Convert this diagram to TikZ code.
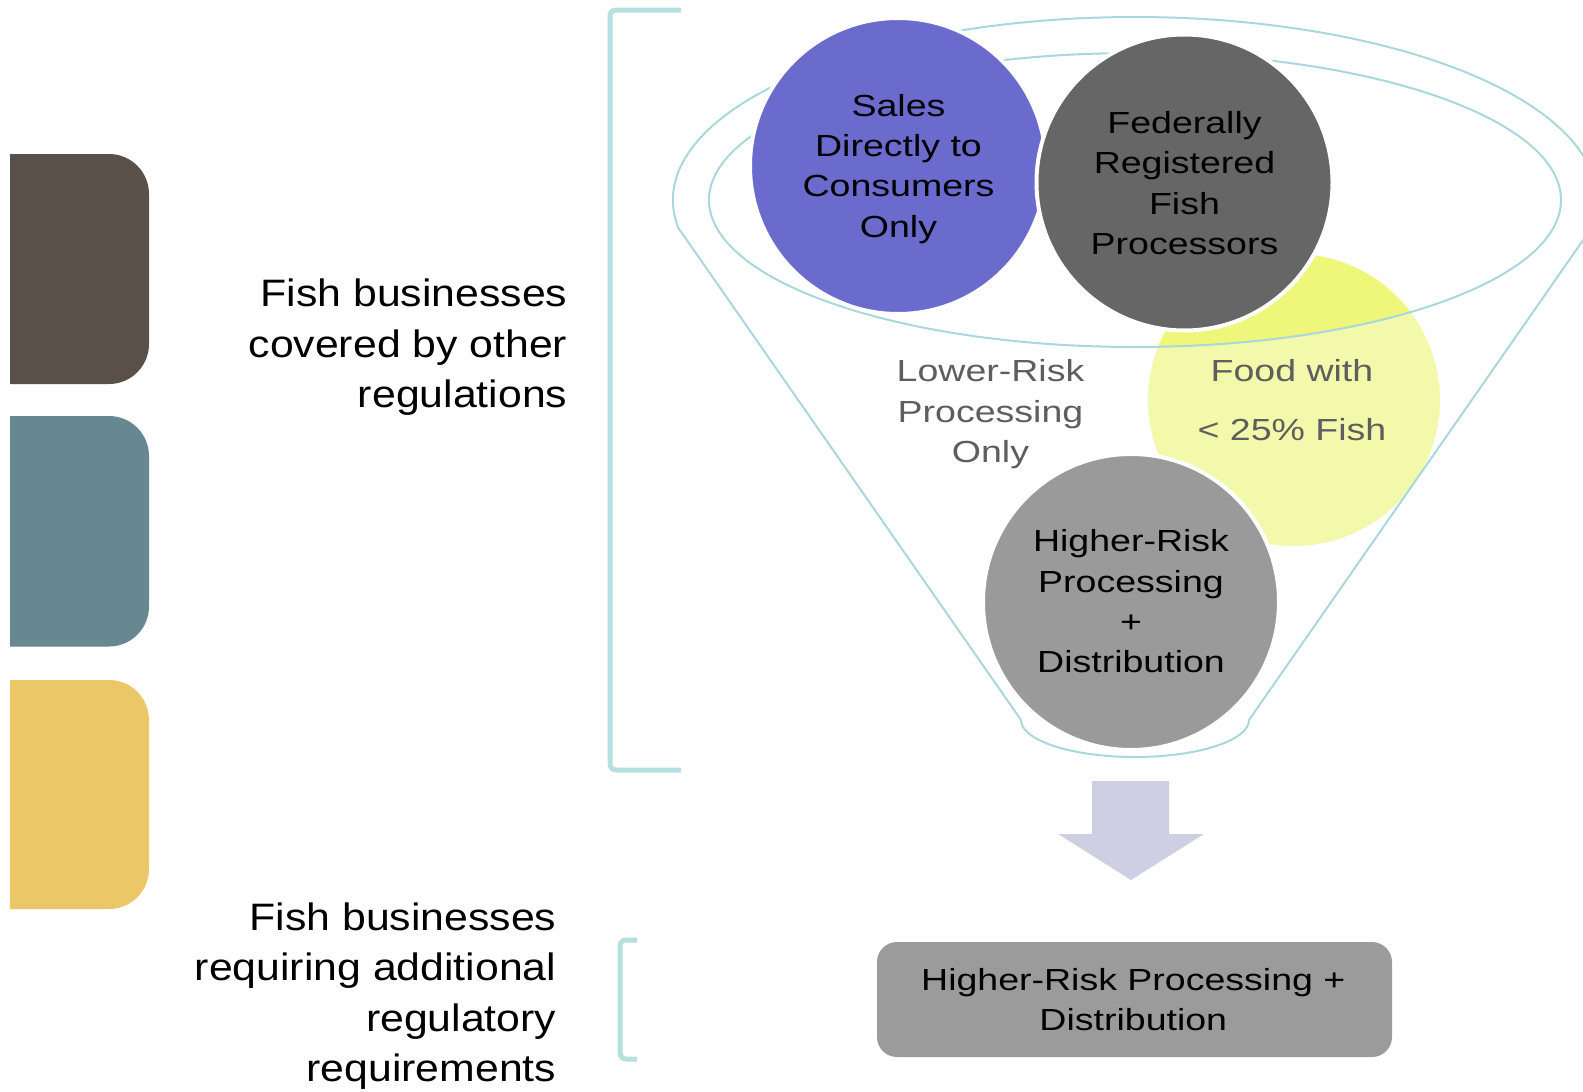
\documentclass[tikz,border=0pt]{standalone}
\usepackage{fontspec}
\setmainfont{Liberation Sans}
\newfontfamily\sidefont{Liberation Sans}[FakeStretch=1.12]
\newfontfamily\bubblefont{Liberation Sans}[FakeStretch=1.23]
\newcommand\capstrut{\rule{0pt}{0.75em}}

\definecolor{rim}{HTML}{A9D8DC}
\definecolor{bracketcol}{HTML}{B5DFE1}
\definecolor{salescol}{HTML}{6B6BCD}
\definecolor{fedcol}{HTML}{666666}
\definecolor{highcol}{HTML}{9A9A9A}
\definecolor{boxgrey}{HTML}{9B9B9B}
\definecolor{yelsat}{HTML}{EEF77A}
\definecolor{yelpale}{HTML}{F2F9AA}
\definecolor{arrowfill}{HTML}{CFCFE3}
\definecolor{greytext}{HTML}{5E5E5E}
\definecolor{tabbrown}{HTML}{5B5049}
\definecolor{tabblue}{HTML}{678791}
\definecolor{tabgold}{HTML}{EBC767}

\begin{document}
\begin{tikzpicture}[x=1pt,y=1pt,
  sidetext/.style={anchor=north east, align=right, inner sep=0pt,
    font=\sidefont\fontsize{38.2}{50.5}\selectfont},
  bubbletext/.style={anchor=north, align=center, inner sep=0pt,
    font=\bubblefont\fontsize{30.5}{40.3}\selectfont},
  bubble/.style={circle, draw=white, line width=4pt, inner sep=0pt, minimum size=296pt},
  bracketline/.style={draw=bracketcol, line width=5pt, rounded corners=6pt},
  rimline/.style={draw=rim, line width=2pt}]

\useasboundingbox (0,0) rectangle (1583,-1092);
\clip (0,0) rectangle (1583,-1092);

% colour tabs on the left edge
\fill[tabbrown] (10,-154) -- (109,-154) arc[start angle=90, end angle=0, radius=40]
  -- (149,-344) arc[start angle=0, end angle=-90, radius=40] -- (10,-384) -- cycle;
\fill[tabblue] (10,-416) -- (109,-416) arc[start angle=90, end angle=0, radius=40]
  -- (149,-606.5) arc[start angle=0, end angle=-90, radius=40] -- (10,-646.5) -- cycle;
\fill[tabgold] (10,-680) -- (109,-680) arc[start angle=90, end angle=0, radius=40]
  -- (149,-869) arc[start angle=0, end angle=-90, radius=40] -- (10,-909) -- cycle;

% side captions
\node[sidetext] (upperT) at (567.5,-278.05)
  {\capstrut Fish businesses\\covered by other\\regulations};
\node[sidetext] (lowerT) at (556.5,-901.35)
  {\capstrut Fish businesses\\requiring additional\\regulatory\\requirements};

% brackets
\draw[bracketline] (681,-10) -- (610,-10) -- (610,-770) -- (681,-770);
\draw[bracketline] (637,-940) -- (620,-940) -- (620,-1059) -- (637,-1059);

% yellow bubble behind the funnel, brighter inside the rim
\coordinate (foodc) at (1294,-400);
\begin{scope}
  \clip (foodc) circle[radius=146];
  \fill[yelpale] (foodc) circle[radius=146];
  \fill[yelsat] (1135,-200) ellipse[x radius=426, y radius=147];
\end{scope}

% funnel outline
\coordinate (rimL) at (678.4,-228);
\coordinate (rimR) at (1591.6,-228);
\coordinate (spoutL) at (1021,-720);
\coordinate (spoutR) at (1249,-720);
\draw[rimline] (spoutL) -- (rimL)
  arc[start angle=188.8, end angle=-8.8, x radius=462, y radius=183]
  -- (spoutR) arc[start angle=0, end angle=-180, x radius=114, y radius=37];
\draw[rimline] (1135,-200) ellipse[x radius=426, y radius=147];

% bubbles
\node[bubble, fill=salescol] (sales) at (898,-166) {};
\node[bubble, fill=fedcol] (fed) at (1184.5,-182.5) {};
\node[bubble, fill=highcol] (high) at (1131,-602) {};

\node[bubbletext] (salesT) at (898.5,-93.1)
  {\capstrut Sales\\Directly to\\Consumers\\Only};
\node[bubbletext] (fedT) at (1184.5,-110.4)
  {\capstrut Federally\\Registered\\Fish\\Processors};
\node[bubbletext] (highT) at (1131,-528.8)
  {\capstrut Higher-Risk\\Processing\\+\\Distribution};
\node[bubbletext, text=greytext] (lowT) at (990.5,-358.8)
  {\capstrut Lower-Risk\\Processing\\Only};
\node[bubbletext, text=greytext, font=\bubblefont\fontsize{30.5}{58.3}\selectfont]
  (foodT) at (1292,-358.8) {\capstrut Food with\\< 25\% Fish};

% block arrow out of the funnel
\fill[arrowfill] (1092,-781) -- (1169,-781) -- (1169,-834) -- (1204,-834)
  -- (1131,-880) -- (1058,-834) -- (1092,-834) -- cycle;

% result box
\node[fill=boxgrey, rounded corners=20pt, minimum width=515pt, minimum height=115pt,
  inner sep=0pt] (hrbox) at (1134.5,-999.5) {};
\node[bubbletext] (hrboxT) at (1133.3,-967.1)
  {\capstrut Higher-Risk Processing +\\Distribution};

\end{tikzpicture}
\end{document}
